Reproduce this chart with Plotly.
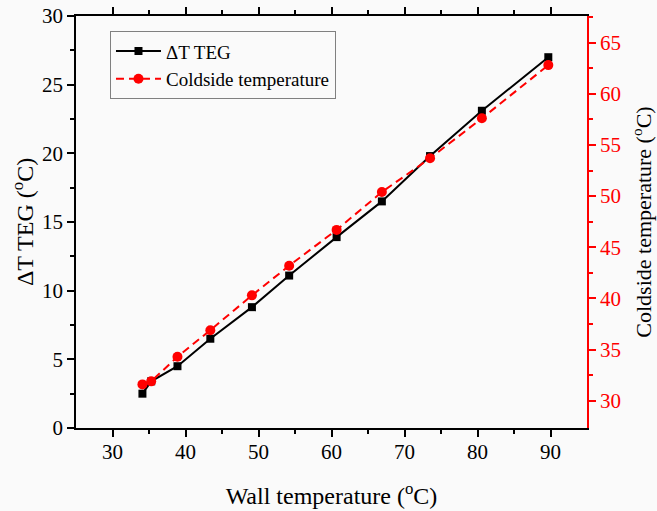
import plotly.graph_objects as go

wall_temp = [34.1, 35.3, 38.9, 43.4, 49.1, 54.2, 60.7, 66.9, 73.5, 80.6, 89.7]
delta_t_teg = [2.5, 3.4, 4.5, 6.5, 8.8, 11.1, 13.9, 16.5, 19.8, 23.1, 27.0]
coldside_temp = [31.6, 31.9, 34.3, 36.9, 40.3, 43.2, 46.7, 50.4, 53.7, 57.6, 62.8]

FONT = "Liberation Serif, Times New Roman, serif"

fig = go.Figure()
fig.add_trace(go.Scatter(
    x=wall_temp, y=delta_t_teg, name="ΔT TEG", mode="lines+markers",
    line=dict(color="black", width=2),
    marker=dict(symbol="square", size=8, color="black"),
))
fig.add_trace(go.Scatter(
    x=wall_temp, y=coldside_temp, name="Coldside temperature", mode="lines+markers",
    yaxis="y2",
    line=dict(color="#ff0000", width=2, dash="8px,5px"),
    marker=dict(symbol="circle", size=10, color="#ff0000"),
))

axis_common = dict(
    showline=True, linewidth=1.5, ticks="outside", ticklen=7, tickwidth=1.5,
    showgrid=False, zeroline=False, automargin=False,
)

fig.update_layout(
    width=657, height=511,
    margin=dict(l=76, r=70, t=16, b=83),
    paper_bgcolor="#fafafa", plot_bgcolor="#fafafa",
    font=dict(family=FONT, size=21, color="black"),
    showlegend=True,
    hovermode=False,
    legend=dict(
        x=0.0665, y=0.963, xanchor="left", yanchor="top",
        bgcolor="#fafafa", bordercolor="#808080", borderwidth=1,
        font=dict(family=FONT, size=19, color="black"),
        itemwidth=45, tracegroupgap=0,
    ),
    xaxis=dict(
        **axis_common, linecolor="black", tickcolor="black",
        range=[25, 95], tickmode="array", tickvals=[30, 40, 50, 60, 70, 80, 90],
        minor=dict(tickvals=[35, 45, 55, 65, 75, 85], ticks="outside", ticklen=4,
                   tickwidth=1.5, tickcolor="black", showgrid=False),
        mirror="ticks",
        title=dict(text="Wall temperature (<sup>o</sup>C)", font=dict(size=24), standoff=24),
        tickfont=dict(size=21),
        ticklabelstandoff=-3,
    ),
    yaxis=dict(
        **axis_common, linecolor="black", tickcolor="black",
        range=[0, 30], tickmode="array", tickvals=[0, 5, 10, 15, 20, 25, 30],
        minor=dict(tickvals=[2.5, 7.5, 12.5, 17.5, 22.5, 27.5], ticks="outside", ticklen=4,
                   tickwidth=1.5, tickcolor="black", showgrid=False),
        title=dict(text="ΔT TEG (<sup>o</sup>C)", font=dict(size=24), standoff=2),
        tickfont=dict(size=21),
    ),
    yaxis2=dict(
        **axis_common, linecolor="#ff0000", tickcolor="#ff0000",
        overlaying="y", side="right", anchor="x",
        range=[27.34, 67.6], tickmode="array", tickvals=[30, 35, 40, 45, 50, 55, 60, 65],
        minor=dict(tickvals=[32.5, 37.5, 42.5, 47.5, 52.5, 57.5, 62.5, 67.5], ticks="outside",
                   ticklen=4, tickwidth=1.5, tickcolor="#ff0000", showgrid=False),
        title=dict(text="Coldside temperature (<sup>o</sup>C)", font=dict(size=22, color="black"), standoff=16),
        tickfont=dict(size=21, color="#ff0000"),
    ),
)

fig.write_html(
    "out.html",
    config={"displayModeBar": False},
    post_script="document.body.style.margin='0';document.body.style.padding='0';",
)
